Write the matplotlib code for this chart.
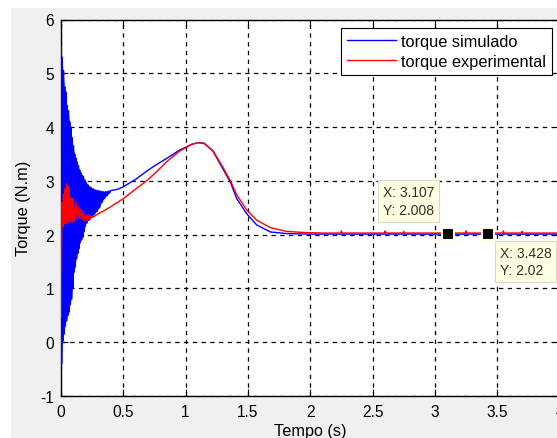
import numpy as np
import matplotlib.pyplot as plt
from matplotlib.patches import Rectangle

# --- data ---
# blue (simulated) transient: oscillation peaks / troughs
sim_hi_t = [0.000, 0.010, 0.020, 0.030, 0.040, 0.050, 0.060, 0.070, 0.080, 0.090,
            0.100, 0.110, 0.120, 0.130, 0.140, 0.150, 0.160, 0.170, 0.180, 0.190,
            0.200, 0.220, 0.240, 0.260, 0.280, 0.300, 0.320, 0.340, 0.360, 0.380, 0.400]
sim_hi_v = [5.50, 5.30, 5.05, 4.75, 4.65, 4.40, 4.30, 4.10, 4.00, 3.80,
            3.65, 3.50, 3.42, 3.35, 3.28, 3.20, 3.15, 3.10, 3.08, 3.02,
            2.98, 2.92, 2.88, 2.85, 2.83, 2.82, 2.81, 2.80, 2.80, 2.81, 2.82]
sim_lo_t = [0.005, 0.015, 0.025, 0.035, 0.045, 0.055, 0.065, 0.075, 0.085, 0.095,
            0.105, 0.115, 0.125, 0.135, 0.145, 0.155, 0.165, 0.175, 0.185, 0.195,
            0.210, 0.230, 0.250, 0.270, 0.290, 0.310, 0.330, 0.350, 0.370, 0.390]
sim_lo_v = [-0.40, 0.02, 0.15, 0.30, 0.40, 0.50, 0.56, 0.70, 0.80, 1.00,
            1.30, 1.40, 1.55, 1.65, 1.74, 1.85, 1.90, 1.95, 2.05, 2.15,
            2.22, 2.28, 2.32, 2.38, 2.43, 2.50, 2.60, 2.67, 2.72, 2.77]
# blue smooth part
sim_t = [0.45, 0.50, 0.60, 0.67, 0.75, 0.85, 0.95, 1.05, 1.10, 1.15, 1.22, 1.30,
         1.36, 1.41, 1.49, 1.57, 1.68, 1.81, 2.00, 2.50, 3.00, 3.50, 4.00]
sim_v = [2.84, 2.89, 3.03, 3.15, 3.28, 3.42, 3.57, 3.68, 3.71, 3.70, 3.55, 3.22,
         2.97, 2.67, 2.39, 2.18, 2.05, 2.02, 2.01, 2.01, 2.01, 2.01, 2.01]

# red (experimental) transient
exp_hi_t = [0.000, 0.010, 0.020, 0.030, 0.045, 0.055, 0.065, 0.080, 0.090, 0.100,
            0.120, 0.140, 0.160, 0.180, 0.200, 0.220, 0.240]
exp_hi_v = [0.45, 2.60, 2.75, 2.85, 2.95, 2.90, 2.85, 2.70, 2.68, 2.65,
            2.60, 2.52, 2.47, 2.42, 2.38, 2.36, 2.35]
exp_lo_t = [0.005, 0.015, 0.025, 0.035, 0.050, 0.060, 0.070, 0.085, 0.095, 0.110,
            0.130, 0.150, 0.170, 0.190, 0.210, 0.230]
exp_lo_v = [2.00, 2.15, 2.20, 2.25, 2.20, 2.24, 2.22, 2.25, 2.24, 2.26,
            2.28, 2.30, 2.28, 2.25, 2.25, 2.27]
# red smooth part (small spikes in the flat tail)
exp_t = [0.26, 0.30, 0.35, 0.40, 0.50, 0.60, 0.67, 0.75, 0.85, 0.95, 1.05, 1.10,
         1.15, 1.22, 1.30, 1.36, 1.41, 1.49, 1.57, 1.68, 1.81, 1.95, 2.10,
         2.245, 2.25, 2.255, 2.595, 2.60, 2.605, 2.745, 2.75, 2.755,
         3.245, 3.25, 3.255, 3.545, 3.55, 3.555, 3.695, 3.70, 3.705, 4.00]
exp_v = [2.33, 2.39, 2.45, 2.52, 2.67, 2.85, 2.97, 3.13, 3.36, 3.55, 3.68, 3.71,
         3.69, 3.56, 3.25, 3.00, 2.74, 2.46, 2.27, 2.13, 2.06, 2.04, 2.03,
         2.03, 2.07, 2.03, 2.03, 2.07, 2.03, 2.03, 2.06, 2.03,
         2.03, 2.07, 2.03, 2.03, 2.07, 2.03, 2.03, 2.06, 2.03, 2.03]

# data tips
tip_x = [3.107, 3.428]
tip_y = [2.008, 2.02]


def merge(hi_t, hi_v, lo_t, lo_v, t, v):
    pts = sorted(zip(hi_t + lo_t, hi_v + lo_v)) + list(zip(t, v))
    return [p[0] for p in pts], [p[1] for p in pts]


sx, sy = merge(sim_hi_t, sim_hi_v, sim_lo_t, sim_lo_v, sim_t, sim_v)
ex, ey = merge(exp_hi_t, exp_hi_v, exp_lo_t, exp_lo_v, exp_t, exp_v)

plt.rcParams['font.family'] = ['Liberation Sans', 'DejaVu Sans']
plt.rcParams['axes.unicode_minus'] = False

fig = plt.figure(figsize=(5.57, 4.39), dpi=100, facecolor='#f0f0f0')
# white margin at left / top like the screenshot
fig.patches.append(Rectangle((0, 0), 11 / 557, 1, transform=fig.transFigure,
                             facecolor='white', edgecolor='none', zorder=-1))
fig.patches.append(Rectangle((0, 1 - 9 / 439), 1, 9 / 439, transform=fig.transFigure,
                             facecolor='white', edgecolor='none', zorder=-1))

ax = fig.add_axes([61 / 557, 42 / 439, 498.5 / 557, 376.5 / 439])
ax.set_facecolor('white')

# oscillation band of the simulated torque (peaks forward, troughs back)
ax.fill(sim_hi_t + sim_lo_t[::-1], sim_hi_v + sim_lo_v[::-1], color='#0000ff',
        lw=0, zorder=3)
ax.plot(sx, sy, color='#0000ff', lw=1.0, label='torque simulado', zorder=3)
ax.plot(ex, ey, color='#ff0000', lw=1.0, label='torque experimental', zorder=4)

ax.set_xlim(0, 4)
ax.set_ylim(-1, 6)
ax.set_xticks([0, 0.5, 1, 1.5, 2, 2.5, 3, 3.5, 4])
ax.set_xticklabels(['0', '0.5', '1', '1.5', '2', '2.5', '3', '3.5', '4'])
ax.set_yticks([-1, 0, 1, 2, 3, 4, 5, 6])
ax.tick_params(direction='in', top=True, right=True, length=5, width=0.8,
               labelsize=11.2, colors='black')
ax.tick_params(axis='x', pad=6)
ax.tick_params(axis='y', pad=5)
ax.grid(True, color='black', linestyle=(0, (3.5, 3.5)), linewidth=0.9)
for s in ax.spines.values():
    s.set_linewidth(1.0)

ax.set_xlabel('Tempo (s)', fontsize=11.7, labelpad=3)
ax.set_ylabel('Torque (N.m)', fontsize=11.7, labelpad=7)

leg = ax.legend(loc='upper right', bbox_to_anchor=(0.985, 0.977), borderaxespad=0,
                fancybox=False, edgecolor='black', framealpha=1, fontsize=11.8,
                handlelength=3.0, handletextpad=0.3, borderpad=0.35, labelspacing=0.3)
leg.get_frame().set_linewidth(0.8)

# data tip markers
ax.plot(tip_x, tip_y, 's', color='black', markersize=9, markeredgecolor='#ffffe1',
        markeredgewidth=1.5, zorder=6, clip_on=False)

box = dict(boxstyle='square,pad=0.35', facecolor='#ffffe1', edgecolor='#d8d8c8', lw=0.8)
ax.text(2.58, 2.63, 'X: %.3f\nY: %.3f' % (tip_x[0], tip_y[0]), fontsize=10,
        color='#303030', va='center', ha='left', bbox=box, zorder=7, linespacing=1.35)
ax.text(3.52, 1.50, 'X: %.3f\nY: %.2f' % (tip_x[1], tip_y[1]), fontsize=10,
        color='#303030', va='center', ha='left', bbox=box, zorder=7, linespacing=1.35)

plt.savefig('out.png', dpi=100, facecolor=fig.get_facecolor())
